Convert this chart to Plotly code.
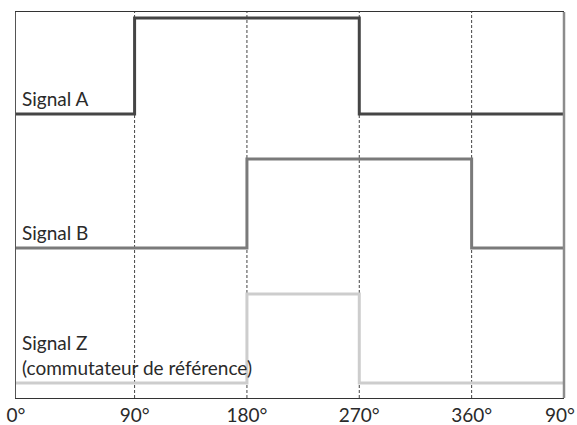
import plotly.graph_objects as go

# ---- data ----
PHASE_START = -5      # left edge of the drawing (degrees)
PHASE_END = 434       # right edge of the drawing (degrees)
GRID_PHASES = [90, 180, 270, 360]
TICK_TEXT = ["0°", "90°", "180°", "270°", "360°"]
END_LABEL = "90°"

signal_a_x = [PHASE_START, 90, 270, PHASE_END]
signal_a_y = [284, 380, 284, 284]

signal_b_x = [PHASE_START, 180, 360, PHASE_END]
signal_b_y = [150, 239, 150, 150]

signal_z_x = [PHASE_START, 180, 270, PHASE_END]
signal_z_y = [15, 104, 15, 15]

labels = ["Signal A", "Signal B", "Signal Z<br>(commutateur de référence)"]
label_levels = [284, 150, 15]

FONT = "Lato, Roboto, DejaVu Sans Condensed, sans-serif"
FSIZE = 19

fig = go.Figure()
for xs, ys, col, w in [
    (signal_a_x, signal_a_y, "#454545", 3),
    (signal_b_x, signal_b_y, "#7a7a7a", 3),
    (signal_z_x, signal_z_y, "#cdcdcd", 3),
]:
    fig.add_trace(go.Scatter(x=xs, y=ys, mode="lines", line=dict(color=col, width=w, shape="hv"),
                             hoverinfo="skip", showlegend=False))

for g in GRID_PHASES:
    fig.add_shape(type="line", xref="x", yref="paper", x0=g, x1=g, y0=0, y1=1,
                  line=dict(color="#444444", width=1, dash="3px,2px"), layer="below")

# right frame edge (lighter, thicker)
fig.add_shape(type="line", xref="paper", yref="paper", x0=1, x1=1, y0=0, y1=1,
              line=dict(color="#8c8c8c", width=2.5))

for txt, lvl in zip(labels, label_levels):
    fig.add_annotation(x=PHASE_START, y=lvl, xref="x", yref="y", text=txt, showarrow=False,
                       xanchor="left", yanchor="bottom", align="left", xshift=4, yshift=2,
                       font=dict(family=FONT, size=FSIZE, color="#2a2a2a"))

# tick label at the right edge of the drawing (kept inside the page)
fig.add_annotation(x=PHASE_END, y=0, xref="x", yref="paper", text=END_LABEL, showarrow=False,
                   xanchor="right", yanchor="top", xshift=13, yshift=-3,
                   font=dict(family=FONT, size=FSIZE, color="#2a2a2a"))

fig.update_layout(
    width=577, height=425,
    margin=dict(l=16, r=13, t=12, b=27),
    paper_bgcolor="white", plot_bgcolor="white",
    font=dict(family=FONT, size=FSIZE, color="#2a2a2a"),
    showlegend=False,
)
fig.update_xaxes(range=[PHASE_START, PHASE_END], showgrid=False, zeroline=False,
                 tickvals=[PHASE_START] + GRID_PHASES, ticktext=TICK_TEXT,
                 showline=True, linecolor="#333333", linewidth=1, mirror=True,
                 automargin=False, ticklabeloverflow="allow",
                 ticks="", tickfont=dict(family=FONT, size=FSIZE, color="#2a2a2a"))
fig.update_yaxes(range=[0, 386], showgrid=False, zeroline=False, showticklabels=False,
                 automargin=False,
                 showline=True, linecolor="#555555", linewidth=1, ticks="")

fig.write_html("out.html", config={"displayModeBar": False},
               post_script="document.body.style.margin='0';document.body.style.overflow='hidden';")
